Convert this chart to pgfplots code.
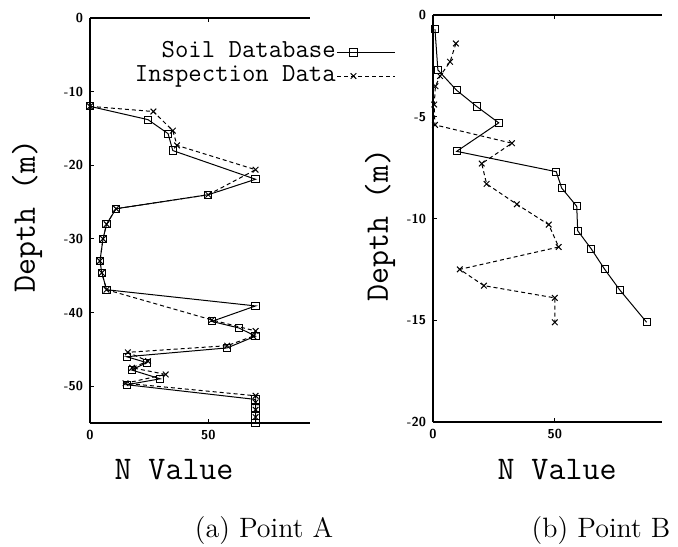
\documentclass[border=0pt]{standalone}
\usepackage{pgfplots}
\pgfplotsset{compat=1.18}
\begin{document}
\begin{tikzpicture}
\useasboundingbox (0pt,0pt) rectangle (339pt,-273pt);
\pgfplotsset{
  depth/.style={
    scale only axis,
    axis x line=box, axis y line*=left,
    axis line style={-, line width=0.6pt},
    tick align=inside, major tick length=2pt,
    tick style={black, line width=0.5pt},
    ticklabel style={font=\fontsize{6.5}{7}\sffamily\bfseries},
    /pgf/number format/assume math mode=true,
    xtick={0,50}, xmin=0,
    clip=false,
  },
  soil/.style={black, line width=0.5pt, mark=square, mark size=1.8pt, mark options={solid}},
  insp/.style={black, line width=0.5pt, dash pattern=on 2pt off 1.5pt, mark=x, mark size=2pt, mark options={solid}},
}
% (a) Point A
\begin{axis}[depth, at={(45pt,-211.5pt)}, anchor=south west,
    width=110pt, height=202.5pt, xmax=93, ymin=-55, ymax=0,
    ytick={0,-10,-20,-30,-40,-50},
    legend plot pos=right, legend cell align=right,
    legend image code/.code={\draw[mark repeat=2,mark phase=2,#1] plot coordinates {(0pt,0pt) (8pt,0pt) (29pt,0pt)};},
    legend style={draw=none, fill=none, at={(1.42,0.955)}, anchor=north east,
      font=\fontsize{13}{13}\ttfamily, row sep=0pt,
      nodes={inner sep=0.6pt, text height=8pt, text depth=2.6pt}},
  ]
\addplot[soil] coordinates {
  (0,-12) (24.5,-13.8) (33,-15.7) (35,-18) (70,-21.9) (50,-24) (11,-25.9)
  (7,-28) (5.5,-30) (4.2,-33) (5,-34.6) (7,-36.9) (70,-39.1) (51.5,-41.2)
  (63,-42.1) (70,-43.2) (58,-44.8) (15.5,-46) (24,-46.8) (17.6,-47.8)
  (29.7,-49) (15.5,-49.8) (70,-51.8) (70,-53) (70,-54) (70,-55)
};
\addlegendentry{Soil Database}
\addplot[insp] coordinates {
  (0,-12) (26.8,-12.7) (35,-15.3) (36.8,-17.3) (70,-20.6) (50,-24) (11,-25.9)
  (7,-28) (5.5,-30) (4.2,-33) (5,-34.6) (7,-36.9) (51.5,-41) (70,-42.5)
  (69,-43.2) (58,-44.5) (16,-45.4) (24.5,-46.6) (17.8,-47.5) (32,-48.4)
  (15,-49.6) (70,-51.3) (70,-52.2) (70,-53.2) (70,-54.2)
};
\addlegendentry{Inspection Data}
\end{axis}
% (b) Point B
\begin{axis}[depth, at={(216.5pt,-211pt)}, anchor=south west,
    width=114.5pt, height=203.5pt, xmax=94, ymin=-20, ymax=0,
    ytick={0,-5,-10,-15,-20},
  ]
\addplot[soil] coordinates {
  (0.8,-0.7) (2,-2.7) (9.7,-3.7) (18,-4.5) (27,-5.3) (9.7,-6.7) (50.6,-7.7)
  (52.8,-8.5) (59,-9.4) (59.4,-10.6) (65,-11.5) (70.5,-12.5) (76.6,-13.5)
  (87.7,-15.1)
};
\addplot[insp] coordinates {
  (9.4,-1.4) (7,-2.3) (2.9,-3) (1,-3.5) (0.5,-4.4) (0.8,-5.4) (32.4,-6.3)
  (20,-7.3) (22,-8.3) (34.4,-9.3) (47.5,-10.3) (51.6,-11.4) (11,-12.5)
  (20.9,-13.3) (50,-13.9) (50,-15.1)
};
\end{axis}
\node[rotate=90, font=\fontsize{16.5}{18}\ttfamily] at (13.5pt,-108pt) {Depth (m)};
\node[rotate=90, font=\fontsize{16.5}{18}\ttfamily] at (190pt,-112.5pt) {Depth (m)};
\node[anchor=base, font=\fontsize{16.5}{18}\ttfamily] at (87pt,-239.5pt) {N Value};
\node[anchor=base, font=\fontsize{16.5}{18}\ttfamily] at (278.5pt,-239.5pt) {N Value};
\node[anchor=base, font=\fontsize{14}{16}\selectfont] at (132pt,-268.5pt) {(a) Point A};
\node[anchor=base, font=\fontsize{14}{16}\selectfont] at (300.5pt,-268.5pt) {(b) Point B};
\end{tikzpicture}
\end{document}
